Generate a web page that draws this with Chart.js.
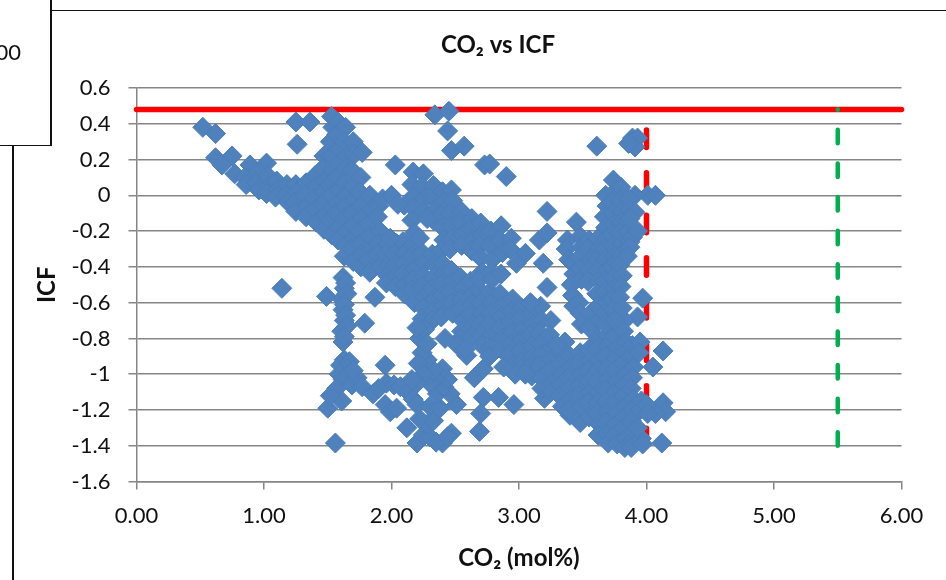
<!DOCTYPE html>
<html>
<head>
<meta charset="utf-8">
<style>
html,body{margin:0;padding:0;width:946px;height:580px;overflow:hidden;background:#fff;}
#c{position:absolute;left:0;top:0;}
.b{position:absolute;background:#111;}
#t{position:absolute;left:-40px;width:61px;top:38px;text-align:right;font:22px Lato,sans-serif;color:#111;line-height:28px;}
</style>
<script src="https://cdn.jsdelivr.net/npm/chart.js@4/dist/chart.umd.min.js"></script>
</head>
<body>
<canvas id="c" width="946" height="580"></canvas>
<div class="b" style="left:50px;top:0;width:1.5px;height:146px"></div>
<div class="b" style="left:0;top:144.5px;width:51px;height:1.5px"></div>
<div class="b" style="left:50px;top:9.5px;width:896px;height:1.5px"></div>
<div class="b" style="left:12px;top:145px;width:1.5px;height:435px"></div>
<div id="t">00</div>
<script>
const chartTitle = "CO\u2082 vs ICF";
const xAxisTitle = "CO\u2082 (mol%)";
const yAxisTitle = "ICF";

const limitHorizontalX = [0, 6];
const limitHorizontalY = [0.48, 0.48];
const limitRedX = [4, 4];
const limitRedY = [-1.40, 0.48];
const limitGreenX = [5.5, 5.5];
const limitGreenY = [-1.40, 0.48];

const co2 = [
0.52,0.62,0.62,0.75,0.67,0.77,0.89,1.02,1.25,1.36,1.26,1.14,
2.34,2.45,2.44,2.47,2.57,2.73,2.77,2.9,3.61,3.89,3.93,3.91,3.86,4.01,4.07,3.91,3.22,
3.45,3.16,3.22,3.05,2.98,3.19,3.22,3.97,3.93,
4.13,4.05,4.13,4.15,4.07,4.12,3.48,3.4,3.2,3.25,
1.49,1.87,1.79,1.95,2.59,2.65,2.72,2.72,2.84,2.7,2.69,2.96,
0.85,0.86,
0.95,0.94,0.96,
1.03,1.04,1.02,
1.1,1.11,1.09,
1.18,1.17,1.19,
1.25,1.26,1.24,1.25,
1.33,1.32,1.34,1.33,
1.4,1.41,1.39,1.4,1.41,
1.47,1.46,1.48,1.47,1.46,1.48,1.47,
1.53,1.54,1.52,1.53,1.54,1.52,1.53,1.54,1.52,1.53,
1.58,1.57,1.59,1.58,1.57,1.59,1.58,1.57,1.59,1.58,
1.64,1.63,1.65,1.64,1.63,1.65,1.64,1.63,1.65,1.64,1.63,
1.7,1.71,1.69,1.7,1.71,1.69,1.7,1.71,1.69,1.7,
1.77,1.76,1.75,1.76,1.77,1.75,1.76,1.77,1.76,
1.83,1.84,1.82,1.83,1.84,1.82,1.83,
1.9,1.89,1.91,1.9,1.89,1.91,
1.97,1.96,1.98,1.97,1.96,
2.03,2.04,2.02,2.03,2.04,2.03,
2.1,2.09,2.11,2.1,2.09,2.11,2.1,
2.17,2.16,2.18,2.17,2.16,2.18,2.17,2.16,2.18,2.17,2.16,2.18,
2.25,2.24,2.26,2.25,2.24,2.26,2.25,2.24,2.26,2.25,2.24,
2.33,2.32,2.34,2.33,2.32,2.34,2.33,2.32,2.34,2.33,2.32,
2.4,2.41,2.39,2.4,2.41,2.39,2.4,2.41,2.39,2.4,2.41,2.39,
2.47,2.48,2.46,2.47,2.48,2.46,2.47,2.48,2.46,2.47,2.48,
2.55,2.54,2.56,2.55,2.54,2.56,2.55,2.54,2.56,2.55,2.54,
2.63,2.62,2.64,2.63,2.62,2.64,2.63,2.62,2.64,2.63,
2.7,2.71,2.69,2.7,2.71,2.69,2.7,2.71,2.69,2.7,2.71,2.69,
2.78,2.77,2.79,2.78,2.77,2.79,2.78,2.77,2.79,2.78,2.77,2.79,
2.86,2.85,2.87,2.86,2.85,2.87,2.86,2.85,2.87,2.86,
2.94,2.93,2.95,2.94,2.93,2.95,2.94,2.93,2.95,
3.02,3.01,3.03,3.02,3.01,3.03,3.02,
3.1,3.11,3.09,3.1,3.11,3.09,3.1,
3.17,3.18,3.16,3.17,3.18,3.16,3.17,3.18,
3.25,3.24,3.26,3.25,3.24,3.26,3.25,
3.33,3.32,3.34,3.33,3.32,3.34,
3.4,3.41,3.39,3.4,3.41,3.39,
3.48,3.47,3.49,3.48,3.47,3.49,
3.55,3.56,3.54,3.55,3.56,3.54,3.55,
3.62,3.61,3.63,3.62,3.61,3.63,3.62,3.61,3.63,3.62,
3.69,3.7,3.68,3.69,3.7,3.68,3.69,3.7,3.68,3.69,3.7,
3.76,3.75,3.77,3.76,3.75,3.77,3.76,3.75,3.77,3.76,3.75,3.77,
3.83,3.82,3.84,3.83,3.82,3.84,3.83,3.82,3.84,3.83,3.82,3.84,3.83,
3.89,3.88,3.9,3.89,3.88,3.9,3.89,3.88,3.9,3.89,3.88,
3.95,3.94,3.96,3.95,4.0,4.01,3.96,3.97,3.93,
3.38,3.37,3.39,
3.42,3.43,3.41,3.42,3.43,
3.48,3.49,3.47,3.48,3.49,3.47,3.48,3.49,
3.55,3.54,3.56,3.55,3.54,3.56,3.55,
3.62,3.63,3.61,3.62,3.63,3.61,3.62,3.63,
3.68,3.69,3.67,3.68,3.69,3.67,3.68,3.69,3.67,3.68,3.69,3.67,3.68,
3.74,3.75,3.73,3.74,3.75,3.73,3.74,3.75,3.73,3.74,3.75,3.73,3.74,3.75,
3.8,3.79,3.81,3.8,3.79,3.81,3.8,3.79,3.81,3.8,3.79,3.81,
3.86,3.87,3.85,3.86,3.87,3.85,
1.62,1.63,1.61,1.62,1.63,1.61,1.62,
1.64,1.65,1.63,1.64,1.65,1.63,
1.63,1.6,1.67,1.65,1.59,1.62,1.57,1.61,1.5,1.52,1.56,
1.69,1.73,1.77,1.7,
1.855,1.9,1.96,2.02,2.07,2.13,2.17,1.95,1.99,2.04,2.12,2.2,2.25,2.3,2.28,2.22,2.2,2.3,2.33,2.38,2.36,2.4,2.35,2.47,2.44,2.51,2.46,2.41,2.44,2.4,2.34,2.3,2.33,2.28,2.22,2.26,2.2,2.24,2.21,2.25,2.2,2.16,2.28,
3.91,3.87,3.89,3.87,3.93,3.85,3.09,2.97,2.88,3.05,
1.93,2.0,2.05,1.99,2.22,2.28,2.42,2.52,2.58,3.36,3.3
];
const icf = [
0.38,0.345,0.21,0.22,0.17,0.12,0.17,0.18,0.41,0.41,0.285,-0.52,
0.45,0.47,0.36,0.25,0.275,0.17,0.175,0.105,0.275,0.32,0.32,0.27,0.29,0,0,0,-0.09,
-0.15,-0.25,-0.21,-0.325,-0.38,-0.38,-0.515,-0.575,-0.68,
-0.87,-0.96,-1.16,-1.21,-1.22,-1.385,-1.27,-1.23,-1.135,-1.09,
-0.565,-0.57,-0.715,-0.95,-0.895,-1.02,-0.97,-1.13,-1.13,-1.22,-1.32,-1.17,
0.1,0.06,
0.13,0.07,0.03,
0.11,0.05,0.01,
0.08,0.03,-0.01,
0.06,0.0,-0.04,
0.06,0.02,-0.04,-0.09,
0.07,0.0,-0.06,-0.12,
0.11,0.05,-0.02,-0.08,-0.15,
0.22,0.15,0.08,0.02,-0.05,-0.11,-0.19,
0.44,0.38,0.3,0.22,0.14,0.06,0,-0.07,-0.14,-0.22,
0.41,0.34,0.26,0.18,0.1,0.03,-0.04,-0.1,-0.18,-0.25,
0.38,0.3,0.22,0.15,0.07,0,-0.06,-0.13,-0.2,-0.28,-0.34,
0.3,0.23,0.14,0.05,-0.03,-0.1,-0.17,-0.24,-0.3,-0.37,
0.24,0.1,0.02,-0.06,-0.13,-0.2,-0.27,-0.33,-0.4,
0.0,-0.08,-0.16,-0.23,-0.3,-0.36,-0.43,
-0.06,-0.12,-0.2,-0.27,-0.33,-0.4,
-0.27,-0.33,-0.39,-0.45,-0.49,
0.17,-0.27,-0.33,-0.39,-0.45,-0.51,
-0.055,-0.26,-0.32,-0.38,-0.44,-0.5,-0.55,
0.13,0.06,0.0,-0.07,-0.14,-0.21,-0.28,-0.34,-0.41,-0.47,-0.53,-0.6,
0.12,0.05,-0.02,-0.09,-0.32,-0.38,-0.45,-0.51,-0.57,-0.63,-0.69,
0.055,-0.01,-0.08,-0.14,-0.33,-0.39,-0.46,-0.52,-0.58,-0.65,-0.7,
0.02,-0.04,-0.11,-0.18,-0.25,-0.31,-0.38,-0.44,-0.5,-0.56,-0.62,-0.68,
0.03,-0.03,-0.1,-0.17,-0.24,-0.3,-0.42,-0.48,-0.54,-0.6,-0.66,
-0.09,-0.15,-0.22,-0.28,-0.46,-0.52,-0.58,-0.64,-0.7,-0.76,-0.8,
-0.13,-0.19,-0.25,-0.31,-0.48,-0.55,-0.61,-0.67,-0.73,-0.79,
-0.155,-0.22,-0.28,-0.35,-0.43,-0.53,-0.6,-0.66,-0.72,-0.78,-0.84,-0.47,
-0.2,-0.28,-0.36,-0.43,-0.54,-0.6,-0.66,-0.72,-0.78,-0.85,-0.9,-0.47,
-0.17,-0.25,-0.32,-0.44,-0.55,-0.62,-0.68,-0.74,-0.8,-0.86,
-0.24,-0.3,-0.58,-0.65,-0.71,-0.77,-0.83,-0.89,-0.95,
-0.63,-0.69,-0.75,-0.81,-0.87,-0.93,-0.97,
-0.66,-0.72,-0.78,-0.84,-0.9,-0.96,-1.01,
-0.62,-0.7,-0.77,-0.83,-0.89,-0.95,-1.02,-1.08,
-0.7,-0.78,-0.85,-0.92,-0.98,-1.05,-1.1,
-0.88,-0.94,-1.0,-1.06,-1.12,-1.18,
-0.9,-0.96,-1.02,-1.08,-1.14,-1.2,
-0.88,-0.94,-1,-1.06,-1.12,-1.18,
-0.86,-0.92,-0.98,-1.04,-1.1,-1.16,-1.24,
-0.8,-0.86,-0.92,-0.98,-1.04,-1.1,-1.16,-1.22,-1.28,-1.34,
-0.78,-0.84,-0.9,-0.97,-1.03,-1.09,-1.15,-1.21,-1.27,-1.33,-1.385,
-0.73,-0.79,-0.85,-0.91,-0.98,-1.04,-1.1,-1.16,-1.22,-1.28,-1.34,-1.39,
-0.7,-0.76,-0.82,-0.88,-0.94,-1.0,-1.06,-1.12,-1.18,-1.24,-1.3,-1.36,-1.41,
-0.84,-0.9,-0.96,-1.02,-1.08,-1.14,-1.2,-1.26,-1.32,-1.38,-1.41,
-0.82,-0.88,-1.15,-1.2,-1.17,-1.22,-1.36,-1.39,-1.3,
-0.25,-0.3,-0.36,
-0.38,-0.44,-0.5,-0.56,-0.62,
-0.23,-0.29,-0.35,-0.41,-0.47,-0.6,-0.66,-0.72,
-0.25,-0.3,-0.36,-0.42,-0.48,-0.66,-0.74,
-0.24,-0.3,-0.36,-0.42,-0.48,-0.55,-0.62,-0.7,
0.0,-0.06,-0.12,-0.18,-0.24,-0.3,-0.36,-0.42,-0.48,-0.54,-0.6,-0.66,-0.72,
0.085,0.02,-0.04,-0.1,-0.16,-0.22,-0.28,-0.34,-0.4,-0.46,-0.52,-0.58,-0.64,-0.7,
0.045,-0.03,-0.09,-0.15,-0.21,-0.27,-0.33,-0.39,-0.45,-0.51,-0.57,-0.63,
-0.02,-0.08,-0.14,-0.2,-0.26,-0.3,
-0.46,-0.52,-0.58,-0.64,-0.7,-0.76,-0.82,
-0.49,-0.55,-0.61,-0.67,-0.73,-0.79,
-0.92,-0.95,-0.93,-0.97,-1.0,-1.03,-1.08,-1.15,-1.19,-1.12,-1.385,
-1.06,-1.02,-1.07,-0.98,
-1.11,-1.08,-1.05,-1.06,-1.07,-1.1,-1.14,-1.17,-1.21,-1.19,-1.3,-1.385,-1.34,-1.35,-1.28,-1.25,-1.17,-1.18,-1.26,-1.19,-1.11,-1.385,-1.38,-1.33,-1.35,-1.17,-1.11,-1.07,-1.03,-0.97,-1.03,-1.05,-0.98,-0.92,-0.8,-0.75,-0.74,-0.88,-0.94,-1.0,-1.05,-1.03,-0.83,
-0.095,-0.13,-0.235,-0.29,-0.2,-0.34,-0.6,-1.0,-0.96,-1.0,
-0.02,0.0,-0.05,-0.24,-0.24,-0.13,-0.8,-0.84,-0.86,-0.82,-0.84
];
if (co2.length !== icf.length) throw new Error("length mismatch " + co2.length + " vs " + icf.length);

const toPoints = (xs, ys) => xs.map((x, i) => ({x, y: ys[i]}));
const GRID = "#868686";
const FONT = "Lato, sans-serif";

const shiftTitle = {
  id: "shiftTitle",
  afterLayout(chart) {
    const t = chart.titleBlock;
    if (t) { t.left = 0; t.right = 996; }
  }
};

new Chart(document.getElementById("c"), {
  type: "scatter",
  plugins: [shiftTitle],
  data: { datasets: [
    { label: "ICF", data: toPoints(co2, icf), order: 0, showLine: false, clip: false,
      pointStyle: "rectRot", pointRadius: 10, backgroundColor: "#4F81BD", borderColor: "#4A7EBB", borderWidth: 1 },
    { label: "Limit 5.5", data: toPoints(limitGreenX, limitGreenY), order: 1, showLine: true, clip: false, pointRadius: 0,
      borderColor: "#00B050", borderWidth: 4.5, borderCapStyle: "round", borderDash: [13.5, 20.1] },
    { label: "Limit 4", data: toPoints(limitRedX, limitRedY), order: 2, showLine: true, clip: false, pointRadius: 0,
      borderColor: "#FF0000", borderWidth: 5.5, borderCapStyle: "round", borderDash: [17.5, 25.1] },
    { label: "Limit ICF", data: toPoints(limitHorizontalX, limitHorizontalY), order: 3, showLine: true, clip: false, pointRadius: 0,
      borderColor: "#FF0000", borderWidth: 5.5, borderCapStyle: "round" }
  ]},
  options: {
    responsive: false,
    animation: false,
    layout: { padding: { left: 0, right: 44.5, top: 0, bottom: 0 } },
    plugins: {
      legend: { display: false },
      tooltip: { enabled: false },
      title: { display: true, text: chartTitle, color: "#111", font: { family: FONT, size: 24, weight: "bold" }, padding: { top: 31, bottom: 28.2 } }
    },
    scales: {
      x: {
        type: "linear", min: 0, max: 6,
        afterFit: s => { s.height = 98.5; },
        border: { color: GRID, width: 1.5 },
        grid: { drawOnChartArea: false, drawTicks: true, tickLength: 8, color: GRID, lineWidth: 1.5 },
        ticks: { stepSize: 1, color: "#111", font: { family: FONT, size: 22 }, padding: 13, maxRotation: 0, callback: v => v.toFixed(2) },
        title: { display: true, text: xAxisTitle, color: "#111", font: { family: FONT, size: 24, weight: "bold" }, padding: { top: 0, bottom: 7 } }
      },
      y: {
        type: "linear", min: -1.6, max: 0.6,
        afterFit: s => { s.width = 136.5; },
        border: { color: GRID, width: 1.5 },
        grid: { tickLength: 8, color: GRID, lineWidth: 1.5 },
        ticks: { stepSize: 0.2, color: "#111", font: { family: FONT, size: 22 }, padding: 18, callback: v => String(parseFloat(v.toFixed(1))) },
        title: { display: true, text: yAxisTitle, color: "#111", font: { family: FONT, size: 24, weight: "bold" }, padding: { top: 33, bottom: 0 } }
      }
    }
  }
});
</script>
</body>
</html>
